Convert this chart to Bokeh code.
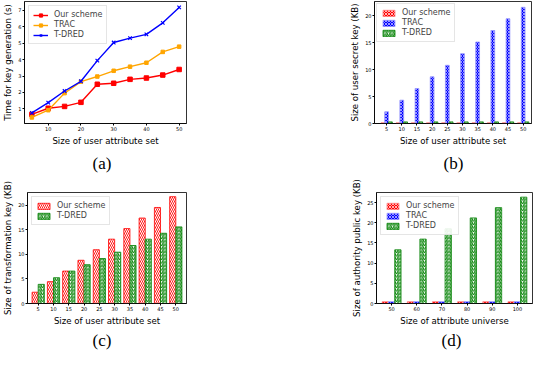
from bokeh.plotting import figure
from bokeh.layouts import row, column
from bokeh.models import Legend, LegendItem, FixedTicker, Title, ColumnDataSource
from bokeh.transform import dodge
from bokeh.embed import file_html
from bokeh.resources import INLINE

# ---------------- data ----------------
attr_sizes = [5, 10, 15, 20, 25, 30, 35, 40, 45, 50]
attr_labels = ["5", "10", "15", "20", "25", "30", "35", "40", "45", "50"]

keygen_ours = [0.66, 1.04, 1.15, 1.40, 2.50, 2.56, 2.80, 2.88, 3.06, 3.40]
keygen_trac = [0.48, 0.92, 1.96, 2.66, 2.97, 3.32, 3.57, 3.81, 4.47, 4.79]
keygen_tdred = [0.76, 1.38, 2.09, 2.68, 3.94, 5.04, 5.31, 5.54, 6.24, 7.18]

usk_ours = [0.12, 0.12, 0.12, 0.12, 0.12, 0.12, 0.12, 0.12, 0.12, 0.12]
usk_trac = [2.16, 4.33, 6.49, 8.65, 10.8, 12.95, 15.12, 17.25, 19.42, 21.55]
usk_tdred = [0.3, 0.3, 0.3, 0.3, 0.3, 0.3, 0.3, 0.3, 0.3, 0.3]

tk_ours = [2.3, 4.45, 6.6, 8.8, 10.95, 13.1, 15.25, 17.4, 19.55, 21.75]
tk_tdred = [3.9, 5.25, 6.6, 7.9, 9.15, 10.45, 11.8, 13.1, 14.3, 15.6]

universe = [50, 60, 70, 80, 90, 100]
universe_labels = ["50", "60", "70", "80", "90", "100"]
apk_ours = [0.45, 0.45, 0.45, 0.45, 0.45, 0.45]
apk_trac = [0.45, 0.45, 0.45, 0.45, 0.45, 0.45]
apk_tdred = [13.3, 15.95, 18.5, 21.2, 23.75, 26.35]

FONT = "DejaVu Sans"
LBL = "8.6px"
TICK = "5px"
LEG = "8px"


def style(p, xlabel, ylabel):
    p.xgrid.grid_line_color = None
    p.ygrid.grid_line_color = None
    p.outline_line_color = "black"
    p.outline_line_width = 0.8
    p.background_fill_color = "white"
    p.border_fill_color = "white"
    for ax in (p.xaxis[0], p.yaxis[0]):
        ax.axis_label_text_font = FONT
        ax.axis_label_text_font_size = LBL
        ax.axis_label_text_font_style = "normal"
        ax.axis_label_text_color = "black"
        ax.major_label_text_font = FONT
        ax.major_label_text_font_size = TICK
        ax.major_label_text_color = "black"
        ax.major_tick_in = 0
        ax.major_tick_out = 2
        ax.minor_tick_in = 0
        ax.minor_tick_out = 0
        ax.axis_line_color = "black"
        ax.axis_line_width = 0.8
        ax.major_label_standoff = 1
        ax.axis_label_standoff = 2
    p.xaxis.axis_label = xlabel
    p.yaxis.axis_label = ylabel


def add_legend(p, items, margin=3):
    leg = Legend(items=items, location="top_left")
    leg.label_text_font = FONT
    leg.label_text_font_size = LEG
    leg.label_standoff = 6
    leg.glyph_width = 15
    leg.glyph_height = 8
    leg.spacing = 1
    leg.padding = 4
    leg.margin = margin
    leg.label_height = 9
    leg.border_line_color = "#cccccc"
    leg.border_line_width = 1
    leg.background_fill_alpha = 0.9
    p.add_layout(leg, "center")


def caption(p, text, standoff, offset):
    t = Title(text=text, align="left", offset=offset, standoff=standoff,
              text_font="Liberation Serif", text_font_size="17px",
              text_font_style="normal", text_color="black")
    p.add_layout(t, "below")


TOP_H = 176
BOT_H = 174

# ---------------- (a) ----------------
pa = figure(width=270, height=TOP_H, x_range=(2.75, 52.25), y_range=(0.11, 7.54),
            output_backend="svg", toolbar_location=None,
            min_border_left=21, min_border_right=84, min_border_top=1, min_border_bottom=53)
style(pa, "Size of user attribute set", "Time for key generation (s)")
pa.xaxis.ticker = FixedTicker(ticks=[10, 20, 30, 40, 50])
pa.yaxis.ticker = FixedTicker(ticks=[1, 2, 3, 4, 5, 6, 7])
src_a = ColumnDataSource(dict(x=attr_sizes, ours=keygen_ours, trac=keygen_trac, tdred=keygen_tdred))
l1 = pa.line("x", "ours", source=src_a, color="red", line_width=1.4)
m1 = pa.scatter("x", "ours", source=src_a, marker="square", size=4.5, color="red")
l2 = pa.line("x", "trac", source=src_a, color="orange", line_width=1.4)
m2 = pa.scatter("x", "trac", source=src_a, marker="square", size=3.5, color="orange")
l3 = pa.line("x", "tdred", source=src_a, color="blue", line_width=1.4)
m3 = pa.scatter("x", "tdred", source=src_a, marker="x", size=5, color="blue", line_width=1.2)
add_legend(pa, [LegendItem(label="Our scheme", renderers=[l1, m1]),
                LegendItem(label="TRAC", renderers=[l2, m2]),
                LegendItem(label="T-DRED", renderers=[l3, m3])], margin=4)
caption(pa, "(a)", 6, 68)

# bar styles
RED_X = dict(fill_color="red", line_color="#ff8080", line_width=0.8,
             hatch_pattern="x", hatch_color="white", hatch_weight=0.7, hatch_scale=3)
BLUE_X = dict(fill_color="blue", line_color="#9999ff", line_width=0.8,
              hatch_pattern="x", hatch_color="white", hatch_weight=0.6, hatch_scale=3)
GREEN_D = dict(fill_color="white", line_color="green", line_width=0.8,
               hatch_pattern="/", hatch_color="green", hatch_weight=1.1, hatch_scale=3.5)
RED_D = dict(fill_color="white", line_color="red", line_width=0.8,
             hatch_pattern="\\", hatch_color="red", hatch_weight=0.9, hatch_scale=4)

idx10 = list(range(len(attr_sizes)))
idx6 = list(range(len(universe)))

# ---------------- (b) ----------------
pb = figure(width=264, height=TOP_H, x_range=(-0.8, 9.55), y_range=(0, 22.63),
            output_backend="svg", toolbar_location=None,
            min_border_left=104, min_border_right=3, min_border_top=1, min_border_bottom=53)
style(pb, "Size of user attribute set", "Size of user secret key (KB)")
pb.xaxis.ticker = FixedTicker(ticks=idx10)
pb.xaxis.major_label_overrides = {i: s for i, s in zip(idx10, attr_labels)}
pb.yaxis.ticker = FixedTicker(ticks=[0, 5, 10, 15, 20])
src_b = ColumnDataSource(dict(x=idx10, ours=usk_ours, trac=usk_trac, tdred=usk_tdred))
b1 = pb.vbar(x=dodge("x", -0.25), top="ours", width=0.25, source=src_b, **RED_X)
b2 = pb.vbar(x=dodge("x", 0.0), top="trac", width=0.25, source=src_b, **BLUE_X)
b3 = pb.vbar(x=dodge("x", 0.25), top="tdred", width=0.25, source=src_b, **GREEN_D)
add_legend(pb, [LegendItem(label="Our scheme", renderers=[b1]),
                LegendItem(label="TRAC", renderers=[b2]),
                LegendItem(label="T-DRED", renderers=[b3])], margin=2)
caption(pb, "(b)", 6, 69)

# ---------------- (c) ----------------
pc = figure(width=270, height=BOT_H, x_range=(-0.7, 9.7), y_range=(0, 22.6),
            output_backend="svg", toolbar_location=None,
            min_border_left=21, min_border_right=84, min_border_top=16, min_border_bottom=37)
style(pc, "Size of user attribute set", "Size of transformation key (KB)")
pc.xaxis.ticker = FixedTicker(ticks=idx10)
pc.xaxis.major_label_overrides = {i: s for i, s in zip(idx10, attr_labels)}
pc.yaxis.ticker = FixedTicker(ticks=[0, 5, 10, 15, 20])
src_c = ColumnDataSource(dict(x=idx10, ours=tk_ours, tdred=tk_tdred))
c1 = pc.vbar(x=dodge("x", -0.2), top="ours", width=0.4, source=src_c, **RED_D)
c2 = pc.vbar(x=dodge("x", 0.2), top="tdred", width=0.4, source=src_c, **GREEN_D)
add_legend(pc, [LegendItem(label="Our scheme", renderers=[c1]),
                LegendItem(label="T-DRED", renderers=[c2])], margin=4)
caption(pc, "(c)", 1, 65)

# ---------------- (d) ----------------
pd_ = figure(width=264, height=BOT_H, x_range=(-0.6, 5.6), y_range=(0, 27.5),
             output_backend="svg", toolbar_location=None,
             min_border_left=106, min_border_right=2, min_border_top=16, min_border_bottom=37)
style(pd_, "Size of attribute universe", "Size of authority public key (KB)")
pd_.xaxis.ticker = FixedTicker(ticks=idx6)
pd_.xaxis.major_label_overrides = {i: s for i, s in zip(idx6, universe_labels)}
pd_.yaxis.ticker = FixedTicker(ticks=[0, 5, 10, 15, 20, 25])
src_d = ColumnDataSource(dict(x=idx6, ours=apk_ours, trac=apk_trac, tdred=apk_tdred))
d1 = pd_.vbar(x=dodge("x", -0.25), top="ours", width=0.25, source=src_d, **RED_X)
d2 = pd_.vbar(x=dodge("x", 0.0), top="trac", width=0.25, source=src_d, **BLUE_X)
d3 = pd_.vbar(x=dodge("x", 0.25), top="tdred", width=0.25, source=src_d, **GREEN_D)
add_legend(pd_, [LegendItem(label="Our scheme", renderers=[d1]),
                 LegendItem(label="TRAC", renderers=[d2]),
                 LegendItem(label="T-DRED", renderers=[d3])], margin=4)
caption(pd_, "(d)", 1, 65)

layout = column(row(pa, pb), row(pc, pd_))
open("out.html", "w").write(file_html(layout, INLINE))
